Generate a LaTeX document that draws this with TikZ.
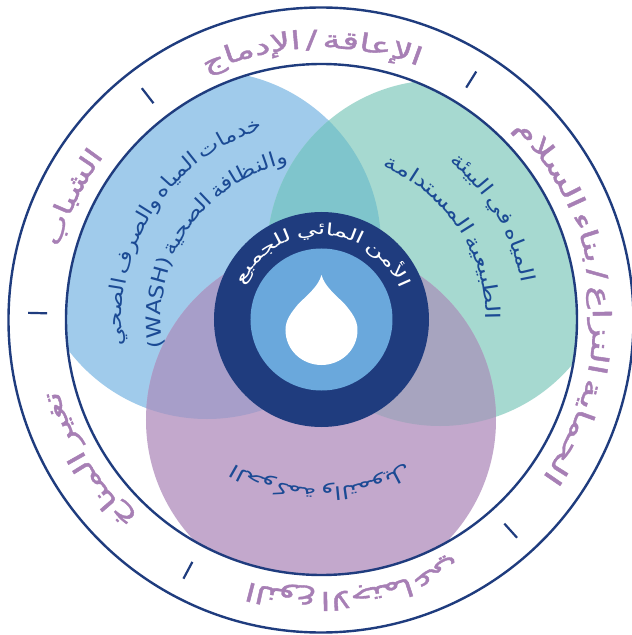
\documentclass[tikz,border=0pt]{standalone}
\usepackage{fontspec}
\usepackage{graphicx}
\TeXXeTstate=1
\font\ATringfont="DejaVu Sans:script=arab;embolden=1.3" at 25pt
\font\ATcentrefont="DejaVu Sans:script=arab" at 17pt
\font\ATbodyfont="DejaVu Sans:script=arab" at 20pt
\font\ATlowfont="DejaVu Sans:script=arab" at 18pt
\definecolor{navy}{HTML}{1F3C7E}
\definecolor{blueC}{HTML}{A0CBEB}
\definecolor{greenC}{HTML}{A6D9D0}
\definecolor{purpleC}{HTML}{C3A8CC}
\definecolor{bgO}{HTML}{7FC5CC}
\definecolor{bpO}{HTML}{A79EC9}
\definecolor{gpO}{HTML}{A7A4BF}
\definecolor{midB}{HTML}{6AA8DC}
\definecolor{ringT}{HTML}{A77FB5}
\definecolor{darkT}{HTML}{1B4A94}
\newcommand\J{^^^^200d}
\newcommand\SP{\hspace{.32em}}
\newcommand\LP{\char40 }
\newcommand\RP{\char41 }
\newdimen\ATw
\newdimen\ATtotal
\newdimen\ATpos
% radius, start angle, end angle, font, colour, comma list of glyph groups (reading order)
\newcommand\arctext[6]{%
  \global\ATtotal=0pt
  \foreach \ATc in {#6}{%
    \setbox0=\hbox{#4\beginR\ATc\endR}%
    \global\advance\ATtotal by \wd0 }%
  \pgfmathsetmacro\ATf{(#3-(#2))*pi/180*#1/\ATtotal}%
  \global\ATpos=0pt
  \foreach \ATc in {#6}{%
    \setbox0=\hbox{#4\beginR\ATc\endR}%
    \ATw=\wd0
    \pgfmathsetmacro\ATang{#2+(\ATpos+0.5*\ATw)*\ATf/#1*180/pi}%
    \node[glyphnode,text=#5,rotate=\ATang-90] at (\ATang:#1pt)
      {\scalebox{\ATf}[1]{#4\beginR\ATc\endR}};
    \global\advance\ATpos by \ATw}%
}
\tikzset{
  glyphnode/.style={anchor=base,inner sep=0pt,outer sep=0pt},
  ringline/.style={draw=navy,line width=2.4pt},
  tick/.style={draw=navy,line width=2.2pt}
}
\begin{document}
\begin{tikzpicture}[x=1pt,y=1pt]
\useasboundingbox[fill=white] (-321,-315) rectangle (311,320);
\def\blueP{(-114,75) circle (174)}
\def\greenP{(119,67) circle (173)}
\def\purpleP{(0,-100) circle (175)}
\begin{scope}
  \clip (0.5,0.5) circle (255.5);
  \fill[blueC] \blueP;
  \fill[greenC] \greenP;
  \fill[purpleC] \purpleP;
  \begin{scope}\clip \blueP; \fill[bgO] \greenP; \end{scope}
  \begin{scope}\clip \blueP; \fill[bpO] \purpleP; \end{scope}
  \begin{scope}\clip \greenP; \fill[gpO] \purpleP; \end{scope}
\end{scope}
\draw[ringline] (0.5,0.5) circle (255.5);
\draw[ringline] (0,0) circle (312.5);
\foreach \a in {58,127.7,178.6,242,312}
  \draw[tick] (\a:274) -- (\a:293);
\fill[navy] (0.5,0.5) circle (107.5);
\fill[midB] (0.5,0.5) circle (71);
\fill[white] (0.5,45) .. controls (4,33) and (14,26) .. (24.5,15) .. controls (31,7) and (36.5,0) .. (36.5,-10)
  .. controls (36.5,-30) and (20,-45) .. (0.5,-45) .. controls (-19,-45) and (-35.5,-30) .. (-35.5,-10)
  .. controls (-35.5,0) and (-30,7) .. (-23.5,15) .. controls (-13,26) and (-3,33) .. (0.5,45) -- cycle;
% ring labels
\arctext{272}{69}{115}{\ATringfont}{ringT}{ا,لإ,ع\J,\J ا,ق\J,\J ة,\SP,/,\SP,ا,لإ,د,م\J,\J ا,ج}
\arctext{272}{143}{164.5}{\ATringfont}{ringT}{ا,ل\J,\J ش\J,\J ب\J,\J ا,ب}
\arctext{272}{195}{227}{\ATringfont}{ringT}{ت\J,\J غ\J,\J ي\J,\J ر,\SP,ا,ل\J,\J م\J,\J ن\J,\J ا,خ}
\arctext{272}{254.5}{299.5}{\ATringfont}{ringT}{ا,ل\J,\J ن\J,\J و,ع,\SP,ا,لا,ج\J,\J ت\J,\J م\J,\J ا,ع\J,\J ي}
\arctext{272}{-35.5}{45}{\ATringfont}{ringT}{ا,ل\J,\J ح\J,\J م\J,\J ا,ي\J,\J ة,\SP,ا,ل\J,\J ن\J,\J ز,ا,ع,\SP,/,\SP,ب\J,\J ن\J,\J ا,ء,\SP,ا,ل\J,\J س\J,\J لا,م}
% centre label
\arctext{85}{21.6}{156}{\ATcentrefont}{white}{ا,لأ,م\J,\J ن,\SP,ا,ل\J,\J م\J,\J ا,ئ\J,\J ي,\SP,ل\J,\J ل\J,\J ج\J,\J م\J,\J ي\J,\J ع}
% circle labels
\arctext{199}{107}{187.5}{\ATbodyfont}{darkT}{خ\J,\J د,م\J,\J ا,ت,\SP,ا,ل\J,\J م\J,\J ي\J,\J ا,ه,\SP,و,ا,ل\J,\J ص\J,\J ر,ف,\SP,ا,ل\J,\J ص\J,\J ح\J,\J ي}
\arctext{160}{101.8}{190}{\ATbodyfont}{darkT}{و,ا,ل\J,\J ن\J,\J ظ\J,\J ا,ف\J,\J ة,\SP,ا,ل\J,\J ص\J,\J ح\J,\J ي\J,\J ة,\SP,\LP,H,S,A,W,\RP}
\arctext{204}{10.4}{51}{\ATbodyfont}{darkT}{ا,ل\J,\J م\J,\J ي\J,\J ا,ه,\SP,ف\J,\J ي,\SP,ا,ل\J,\J ب\J,\J ي\J,\J ئ\J,\J ة}
\arctext{165}{0}{68}{\ATbodyfont}{darkT}{ا,ل\J,\J ط\J,\J ب\J,\J ي\J,\J ع\J,\J ي\J,\J ة,\SP,ا,ل\J,\J م\J,\J س\J,\J ت\J,\J د,ا,م\J,\J ة}
\arctext{168}{239}{301}{\ATlowfont}{darkT}{ا,ل\J,\J ح\J,\J و,ك\J,\J م\J,\J ة,\SP,و,ا,ل\J,\J ت\J,\J م\J,\J و,ي\J,\J ل}
\end{tikzpicture}
\end{document}
